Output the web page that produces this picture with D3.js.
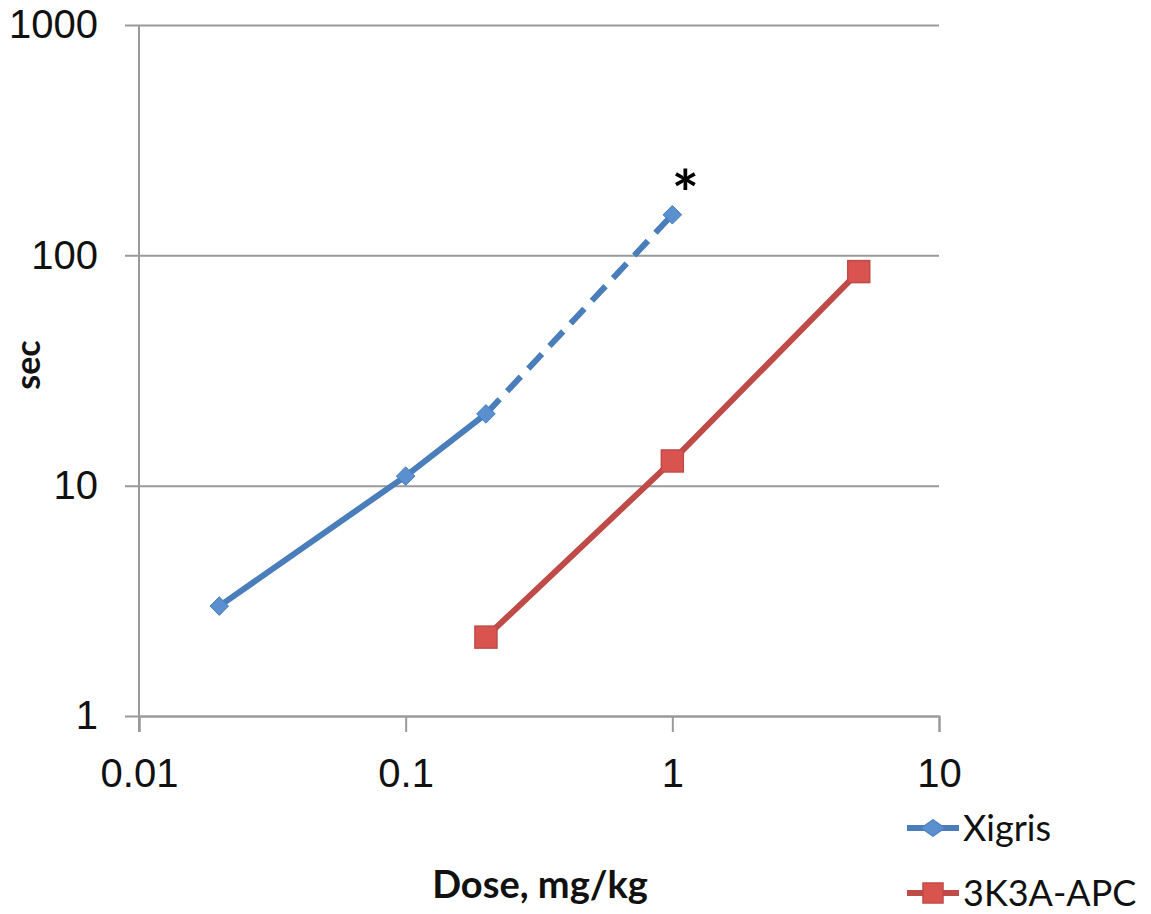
<!DOCTYPE html>
<html>
<head>
<meta charset="utf-8">
<script src="https://cdn.jsdelivr.net/npm/d3@7"></script>
<style>
  body { margin: 0; background: #fff; }
  svg { display: block; font-family: Lato, "Open Sans", sans-serif; }
</style>
</head>
<body>
<svg id="chart" width="1151" height="914"></svg>
<script>
// data
const xTicks = [0.01, 0.1, 1, 10];
const yTicks = [1, 10, 100, 1000];
const xigrisDose = [0.02, 0.1, 0.2, 1];
const xigrisSec = [3.0, 11, 20.5, 150];
const apcDose = [0.2, 1, 5];
const apcSec = [2.2, 12.8, 85];
const seriesNames = ["Xigris", "3K3A-APC"];

const margin = {top: 25, right: 212, bottom: 198, left: 139};
const width = 1151 - margin.left - margin.right;
const height = 914 - margin.top - margin.bottom;

const svg = d3.select("#chart");
const g = svg.append("g").attr("transform", `translate(${margin.left},${margin.top})`);

const x = d3.scaleLog().domain([0.01, 10]).range([0, width]);
const y = d3.scaleLog().domain([1, 1000]).range([height, 0]);

const gridColor = "#9a9a9a";
const textColor = "#111";

// horizontal gridlines + y axis
const yAxis = g.append("g")
  .call(d3.axisLeft(y).tickValues(yTicks).tickFormat(d3.format("d")).tickSize(-width).tickPadding(41));
yAxis.select(".domain").remove();
yAxis.selectAll(".tick line").attr("stroke", gridColor).attr("stroke-width", 2).attr("x1", -14);
yAxis.selectAll(".tick text").attr("fill", textColor).style("font-size", "40px");

// x axis
const xAxis = g.append("g")
  .attr("transform", `translate(0,${height})`)
  .call(d3.axisBottom(x).tickValues(xTicks).tickFormat(d => String(d)).tickSize(16).tickPadding(27));
xAxis.select(".domain").attr("stroke", gridColor).attr("stroke-width", 2);
xAxis.selectAll(".tick line").attr("stroke", gridColor).attr("stroke-width", 2);
xAxis.selectAll(".tick text").attr("fill", textColor).style("font-size", "40px");

// vertical axis line
g.append("line")
  .attr("x1", x(0.01)).attr("x2", x(0.01))
  .attr("y1", 0).attr("y2", height + 16)
  .attr("stroke", gridColor).attr("stroke-width", 2);

const blue = "#4a7ebb", blueFill = "#5a8fd0";
const red = "#be4b48", redFill = "#d9534f";

const xig = xigrisDose.map((d, i) => ({dose: d, sec: xigrisSec[i]}));
const apc = apcDose.map((d, i) => ({dose: d, sec: apcSec[i]}));

const line = d3.line().x(d => x(d.dose)).y(d => y(d.sec));

// Xigris: solid up to 0.2, dashed to 1
g.append("path").datum(xig.slice(0, 3))
  .attr("d", line).attr("fill", "none").attr("stroke", blue).attr("stroke-width", 6);
g.append("path").datum(xig.slice(2))
  .attr("d", line).attr("fill", "none").attr("stroke", blue).attr("stroke-width", 6)
  .attr("stroke-dasharray", "20,11");

g.append("path").datum(apc)
  .attr("d", line).attr("fill", "none").attr("stroke", red).attr("stroke-width", 6);

const diamond = d3.symbol().type(d3.symbolDiamond2).size(220);
g.selectAll(".xm").data(xig).join("path")
  .attr("transform", d => `translate(${x(d.dose)},${y(d.sec)})`)
  .attr("d", diamond).attr("fill", blueFill).attr("stroke", blue).attr("stroke-width", 1);

g.selectAll(".am").data(apc).join("rect")
  .attr("x", d => x(d.dose) - 11).attr("y", d => y(d.sec) - 11)
  .attr("width", 22).attr("height", 22)
  .attr("fill", redFill).attr("stroke", red).attr("stroke-width", 1.5);

// asterisk on last Xigris point
g.append("text")
  .attr("x", x(1) + 13).attr("y", y(150) + 2)
  .attr("text-anchor", "middle")
  .style("font-size", "64px").style("font-weight", "bold")
  .text("*");

// axis titles
svg.append("text")
  .attr("transform", `translate(40,365) rotate(-90)`)
  .attr("text-anchor", "middle")
  .style("font-size", "34px").style("font-weight", "bold").attr("fill", textColor)
  .text("sec");

svg.append("text")
  .attr("x", 540).attr("y", 898)
  .attr("text-anchor", "middle")
  .style("font-size", "38px").style("font-weight", "bold").attr("fill", textColor)
  .text("Dose, mg/kg");

// legend
const legY = [828, 893];
const legend = svg.selectAll(".leg").data(seriesNames).join("g")
  .attr("transform", (d, i) => `translate(907,${legY[i]})`);
legend.append("line").attr("x1", 0).attr("x2", 52)
  .attr("stroke", (d, i) => i ? red : blue).attr("stroke-width", 6);
legend.each(function(d, i) {
  const s = d3.select(this);
  if (i === 0) {
    s.append("path").attr("transform", "translate(26,0) scale(1.3,0.9)").attr("d", diamond)
      .attr("fill", blueFill).attr("stroke", blue);
  } else {
    s.append("rect").attr("x", 16).attr("y", -10).attr("width", 20).attr("height", 20)
      .attr("fill", redFill).attr("stroke", red).attr("stroke-width", 1.5);
  }
});
legend.append("text").attr("x", 56).attr("dy", "0.35em")
  .style("font-size", "36px").attr("fill", textColor)
  .text(d => d);
</script>
</body>
</html>
